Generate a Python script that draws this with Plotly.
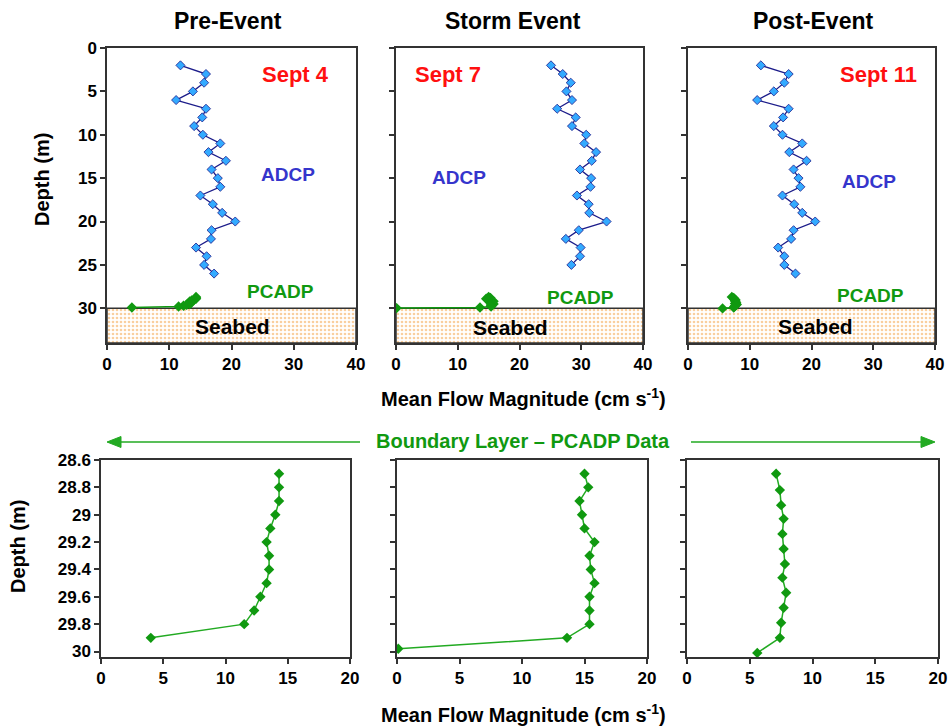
import plotly.graph_objects as go

# ---------------- data ----------------
adcp_depth_pre = [2, 3, 4, 5, 6, 7, 8, 9, 10, 11, 12, 13, 14, 15, 16, 17, 18, 19, 20, 21, 22, 23, 24, 25, 26]
adcp_pre = [11.8, 15.9, 15.6, 13.8, 11.1, 15.9, 15.3, 14.0, 15.4, 18.2, 16.3, 19.1, 16.8,
            17.8, 18.2, 15.0, 17.0, 18.5, 20.6, 16.8, 16.7, 14.3, 16.0, 15.6, 17.2]

adcp_depth_storm = [2, 3, 4, 5, 6, 7, 8, 9, 10, 11, 12, 13, 14, 15, 16, 17, 18, 19, 20, 21, 22, 23, 24, 25]
adcp_storm = [25.1, 27.0, 28.3, 27.6, 28.5, 26.1, 29.1, 28.5, 30.8, 30.5, 32.4, 31.7, 29.8,
              31.6, 31.5, 29.3, 31.2, 31.3, 34.1, 29.6, 27.5, 29.9, 29.8, 28.4]

adcp_depth_post = [2, 3, 4, 5, 6, 7, 8, 9, 10, 11, 12, 13, 14, 15, 16, 17, 18, 19, 20, 21, 22, 23, 24, 25, 26]
adcp_post = [11.8, 16.3, 15.6, 13.9, 11.2, 16.3, 15.4, 13.9, 15.3, 18.5, 16.4, 19.2, 17.1,
             17.9, 18.2, 15.3, 17.2, 18.5, 20.6, 17.1, 16.7, 14.6, 15.6, 15.6, 17.4]

pcadp_depth_pre = [28.7, 28.8, 28.9, 29.0, 29.1, 29.2, 29.3, 29.4, 29.5, 29.6, 29.7, 29.8, 29.9]
pcadp_pre = [14.3, 14.3, 14.3, 14.0, 13.6, 13.3, 13.5, 13.5, 13.3, 12.8, 12.3, 11.5, 4.0]

pcadp_depth_storm = [28.7, 28.8, 28.9, 29.0, 29.1, 29.2, 29.3, 29.4, 29.5, 29.6, 29.7, 29.8, 29.9, 29.98]
pcadp_storm = [15.0, 15.3, 14.6, 14.8, 15.0, 15.8, 15.4, 15.5, 15.8, 15.4, 15.4, 15.4, 13.6, 0.1]

pcadp_depth_post = [28.7, 28.82, 28.93, 29.03, 29.14, 29.25, 29.36, 29.46, 29.57, 29.68, 29.79, 29.9, 30.01]
pcadp_post = [7.1, 7.4, 7.5, 7.7, 7.6, 7.7, 7.8, 7.6, 7.9, 7.7, 7.5, 7.4, 5.6]

panel_titles = ["Pre-Event", "Storm Event", "Post-Event"]
date_labels = ["Sept 4", "Sept 7", "Sept 11"]

top_x_ticks = [0, 10, 20, 30, 40]
top_y_ticks = [0, 5, 10, 15, 20, 25, 30]
bot_x_ticks = [0, 5, 10, 15, 20]
bot_y_ticks = [28.6, 28.8, 29.0, 29.2, 29.4, 29.6, 29.8, 30.0]
bot_y_text = ["28.6", "28.8", "29", "29.2", "29.4", "29.6", "29.8", "30"]

seabed_top, seabed_bottom = 30, 34
top_xmax = 40
bot_xmax = 20

# ---------------- style ----------------
W, H = 949, 727
FONT = "Liberation Sans, Arial, sans-serif"
FRAME = "#333333"
NAVY = "#1c1c8a"
LIGHTBLUE = "#33aaff"
GREEN = "#109910"
LGREEN = "#22aa22"
ADCP_TXT = "#3535cc"


def xd(a, b):
    return [a / W, b / W]


def yd(top, bot):
    return [1 - bot / H, 1 - top / H]


top_xdom = [xd(107, 356), xd(396, 643), xd(688, 935)]
top_ydom = yd(48, 343)
bot_xdom = [xd(101, 350), xd(397, 647), xd(687, 938)]
bot_ydom = yd(460, 657)

fig = go.Figure()

adcp_sets = [(adcp_pre, adcp_depth_pre), (adcp_storm, adcp_depth_storm), (adcp_post, adcp_depth_post)]
pcadp_sets = [(pcadp_pre, pcadp_depth_pre), (pcadp_storm, pcadp_depth_storm), (pcadp_post, pcadp_depth_post)]

layout = dict(
    width=W, height=H, margin=dict(l=0, r=0, t=0, b=0, autoexpand=False),
    paper_bgcolor="white", plot_bgcolor="white", showlegend=False,
    font=dict(family=FONT, color="black"),
)

tickfont_top = dict(family=FONT, size=17, color="black", weight="bold")
tickfont_bot = dict(family=FONT, size=17, color="black", weight="bold")

common_axis = dict(ticks="outside", ticklen=5, tickwidth=1.5, tickcolor=FRAME,
                   showgrid=False, zeroline=False, showline=True, linecolor=FRAME,
                   linewidth=1.5, mirror=True, automargin=False)

annotations = []
shapes = []

for i in range(3):
    xa = f"x{i+1}" if i > 0 else "x"
    ya = f"y{i+1}" if i > 0 else "y"
    xkey = f"xaxis{i+1}" if i > 0 else "xaxis"
    ykey = f"yaxis{i+1}" if i > 0 else "yaxis"
    # seabed
    fig.add_trace(go.Scatter(
        x=[0, top_xmax, top_xmax, 0, 0],
        y=[seabed_top, seabed_top, seabed_bottom, seabed_bottom, seabed_top],
        mode="lines", fill="toself", fillcolor="white",
        fillpattern=dict(shape=".", fgcolor="#f4a040", bgcolor="white", size=4, solidity=0.35),
        line=dict(color=FRAME, width=1.5), hoverinfo="skip", xaxis=xa, yaxis=ya))
    vals, dep = adcp_sets[i]
    fig.add_trace(go.Scatter(
        x=vals, y=dep, mode="lines+markers",
        line=dict(color=NAVY, width=1.3),
        marker=dict(symbol="diamond", size=7, color=LIGHTBLUE, line=dict(color=NAVY, width=0.8)),
        xaxis=xa, yaxis=ya))
    pv, pd_ = pcadp_sets[i]
    fig.add_trace(go.Scatter(
        x=pv, y=pd_, mode="lines+markers",
        line=dict(color=GREEN, width=1.5),
        marker=dict(symbol="diamond", size=8, color=GREEN),
        xaxis=xa, yaxis=ya))

    layout[xkey] = dict(domain=top_xdom[i], anchor=ya, range=[0, top_xmax],
                        tickvals=top_x_ticks, tickfont=tickfont_top, **common_axis)
    layout[ykey] = dict(domain=top_ydom, anchor=xa, range=[seabed_bottom, 0],
                        tickvals=top_y_ticks, showticklabels=(i == 0),
                        tickfont=tickfont_top, **common_axis)

# bottom panels
for i in range(3):
    n = i + 4
    xa, ya = f"x{n}", f"y{n}"
    pv, pd_ = pcadp_sets[i]
    fig.add_trace(go.Scatter(
        x=pv, y=pd_, mode="lines+markers",
        line=dict(color=LGREEN, width=1.5),
        marker=dict(symbol="diamond", size=8, color=GREEN),
        xaxis=xa, yaxis=ya))
    layout[f"xaxis{n}"] = dict(domain=bot_xdom[i], anchor=ya, range=[0, bot_xmax],
                               tickvals=bot_x_ticks, tickfont=tickfont_bot, **common_axis)
    layout[f"yaxis{n}"] = dict(domain=bot_ydom, anchor=xa, range=[30.04, 28.6],
                               tickvals=bot_y_ticks, ticktext=bot_y_text,
                               showticklabels=(i == 0), tickfont=tickfont_bot, **common_axis)

# ---------------- annotations ----------------
def ann(text, x, y, size, color="black", xref="paper", yref="paper", **kw):
    d = dict(text=text, x=x, y=y, xref=xref, yref=yref, showarrow=False,
             font=dict(family=FONT, size=size, color=color, weight="bold"),
             xanchor="center", yanchor="middle")
    d.update(kw)
    annotations.append(d)


title_px = [228, 513, 813]
for t, px in zip(panel_titles, title_px):
    ann(t, px / W, 1 - 21 / H, 23)

# in-panel labels (data coords)
date_pos = [(30.2, 3.0), (8.4, 3.0), (30.9, 3.0)]
adcp_pos = [(29.1, 14.6), (10.2, 14.9), (29.3, 15.4)]
pcadp_pos = [(27.8, 28.1), (29.8, 28.7), (29.5, 28.55)]
seabed_pos = [(20.2, 32.1), (18.6, 32.2), (20.6, 32.1)]
for i in range(3):
    xr = "x" if i == 0 else f"x{i+1}"
    yr = "y" if i == 0 else f"y{i+1}"
    ann(date_labels[i], *date_pos[i], 22, "#ff1010", xref=xr, yref=yr)
    ann("ADCP", *adcp_pos[i], 19, ADCP_TXT, xref=xr, yref=yr)
    ann("PCADP", *pcadp_pos[i], 19, GREEN, xref=xr, yref=yr)
    ann("Seabed", *seabed_pos[i], 21, "black", xref=xr, yref=yr)

# axis titles
ann("Depth (m)", 42 / W, 1 - 180 / H, 20, textangle=-90)
ann("Depth (m)", 18 / W, 1 - 547 / H, 20, textangle=-90)
ann("Mean Flow Magnitude (cm s<sup>-1</sup>)", 523 / W, 1 - 397 / H, 20)
ann("Mean Flow Magnitude (cm s<sup>-1</sup>)", 523 / W, 1 - 713 / H, 20)

# boundary layer banner: text + double-headed arrow (lines + triangle heads)
ann("Boundary Layer \u2013 PCADP Data", 523 / W, 1 - 441 / H, 20, GREEN)


def px_x(p):
    return p / W


def px_y(p):
    return 1 - p / H


ay_px = 442
head_len, head_half = 14, 5.5
for tip, tail in [(107, 360), (935, 691)]:
    sgn = 1 if tail > tip else -1
    base = tip + sgn * head_len
    shapes.append(dict(type="line", xref="paper", yref="paper",
                       x0=px_x(base), x1=px_x(tail), y0=px_y(ay_px), y1=px_y(ay_px),
                       line=dict(color=LGREEN, width=1.5)))
    path = (f"M {px_x(tip)},{px_y(ay_px)} L {px_x(base)},{px_y(ay_px - head_half)} "
            f"L {px_x(base)},{px_y(ay_px + head_half)} Z")
    shapes.append(dict(type="path", xref="paper", yref="paper", path=path,
                       fillcolor=LGREEN, line=dict(color=LGREEN, width=1)))

layout["annotations"] = annotations
layout["shapes"] = shapes
fig.update_layout(**layout)

fig.write_html(
    "out.html",
    config={"displayModeBar": False},
    post_script="document.body.style.margin='0';document.body.style.overflow='hidden';",
)
